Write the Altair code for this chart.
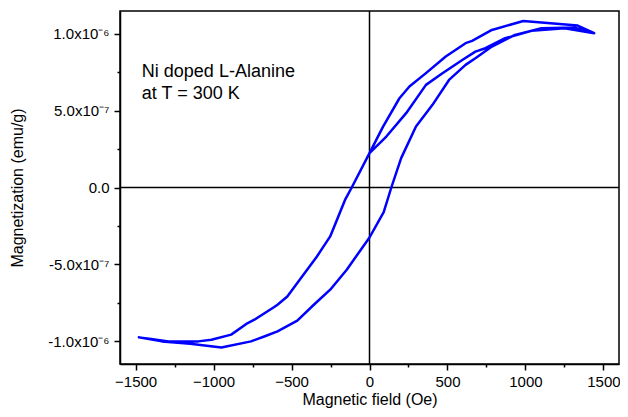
import altair as alt
import pandas as pd

# Field (Oe) and magnetization (units of 1e-6 emu/g)
init_h = [0, 108, 235, 362, 468, 595, 679, 743, 870, 1039, 1251, 1441]
init_m = [0.223, 0.331, 0.483, 0.667, 0.743, 0.829, 0.883, 0.905, 0.970, 1.018, 1.035, 1.003]

desc_h = [1441, 1335, 986, 785, 658, 616, 489, 362, 256, 192, 87, 0, -114, -157, -252,
          -337, -463, -527, -590, -611, -738, -781, -887, -1014, -1098, -1289, -1400, -1479]
desc_m = [1.003, 1.052, 1.082, 1.024, 0.953, 0.938, 0.851, 0.743, 0.656, 0.580, 0.396, 0.223,
          0.0, -0.081, -0.318, -0.448, -0.621, -0.708, -0.762, -0.777, -0.859, -0.881, -0.956,
          -0.989, -1.0, -1.0, -0.985, -0.974]

asc_h = [-1479, -1331, -1150, -950, -760, -675, -590, -463, -357, -252, -146, 0, 91, 140, 203,
         298, 404, 510, 616, 679, 785, 933, 1103, 1314, 1441]
asc_m = [-0.974, -1.0, -1.015, -1.040, -1.0, -0.968, -0.935, -0.865, -0.762, -0.664, -0.534,
         -0.325, -0.16, 0.0, 0.191, 0.396, 0.537, 0.699, 0.797, 0.840, 0.916, 0.992, 1.035,
         1.039, 1.003]

x_major = [-1500, -1000, -500, 0, 500, 1000, 1500]
x_minor = [-1250, -750, -250, 250, 750, 1250]
y_major = [-1.0, -0.5, 0.0, 0.5, 1.0]
y_minor = [-0.75, -0.25, 0.25, 0.75]
note_lines = ["Ni doped L-Alanine", "at T = 300 K"]

h_all = init_h + desc_h + asc_h
m_all = init_m + desc_m + asc_m
df = pd.DataFrame({"h": h_all, "m": m_all, "order": list(range(len(h_all)))})

FONT = "Liberation Sans"
xscale = alt.Scale(domain=[-1600, 1600], nice=False, zero=False)
yscale = alt.Scale(domain=[-1.147, 1.147], nice=False, zero=False)

label_expr = ("datum.value == 1 ? '1.0x10\u207b\u2076' : datum.value == 0.5 ? '5.0x10\u207b\u2077' : "
              "datum.value == 0 ? '0.0' : datum.value == -0.5 ? '-5.0x10\u207b\u2077' : '-1.0x10\u207b\u2076'")

curve = alt.Chart(df).mark_line(color="#0000ff", strokeWidth=2.5, strokeJoin="round").encode(
    x=alt.X("h:Q", scale=xscale,
            axis=alt.Axis(values=x_major, title="Magnetic field (Oe)", orient="bottom",
                          tickSize=6, labelPadding=4, format="d",
                          titleBaseline="alphabetic", titleY=40, titleFontSize=16)),
    y=alt.Y("m:Q", scale=yscale,
            axis=alt.Axis(values=y_major, title="Magnetization (emu/g)", orient="left",
                          tickSize=6, labelPadding=5, labelExpr=label_expr,
                          titleX=-95, titleFontSize=16)),
    order="order:Q",
)

vrule = alt.Chart(pd.DataFrame({"h": [0]})).mark_rule(color="black", strokeWidth=1.5).encode(
    x=alt.X("h:Q", scale=xscale,
            axis=alt.Axis(values=x_minor, labels=False, title=None, orient="bottom",
                          tickSize=3, domain=False)),
)
hrule = alt.Chart(pd.DataFrame({"m": [0]})).mark_rule(color="black", strokeWidth=1.5).encode(
    y=alt.Y("m:Q", scale=yscale,
            axis=alt.Axis(values=y_minor, labels=False, title=None, orient="left",
                          tickSize=3, domain=False)),
)

note = alt.Chart(pd.DataFrame({"h": [-1460], "m": [0.719]})).mark_text(
    align="left", baseline="alphabetic", fontSize=18, font=FONT, lineHeight=22, color="black"
).encode(
    x=alt.X("h:Q", scale=xscale, axis=None),
    y=alt.Y("m:Q", scale=yscale, axis=None),
    text=alt.value(note_lines),
)

chart = alt.layer(hrule, vrule, curve, note).resolve_axis(
    x="independent", y="independent"
).properties(
    width=499, height=353,
    padding={"left": 112, "top": 3, "right": 1, "bottom": 45},
    autosize=alt.AutoSizeParams(type="none"),
).configure_view(
    stroke="black", strokeWidth=1.5
).configure_axis(
    grid=False, domainColor="black", domainWidth=1.5, tickColor="black", tickWidth=1.5,
    labelColor="black", titleColor="black", labelFont=FONT, titleFont=FONT,
    labelFontSize=15, titleFontWeight="normal",
)

chart.save("out.html", embed_options={"renderer": "svg", "actions": False})
